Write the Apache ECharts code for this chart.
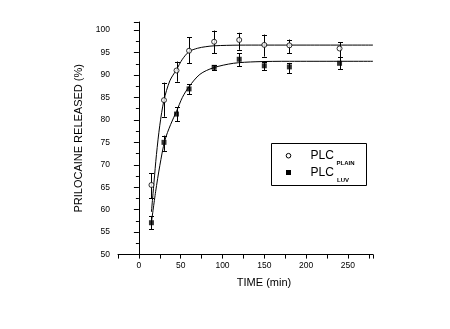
<!DOCTYPE html>
<html><head><meta charset="utf-8">
<script src="https://cdn.jsdelivr.net/npm/echarts@6/dist/echarts.min.js"></script>
<style>html,body{margin:0;padding:0;background:#fff}#c{width:450px;height:329px}</style>
</head><body><div id="c"></div>
<script>
// ---- data ----
const times = [15, 30, 45, 60, 90, 120, 150, 180, 240];
const plainMean = [65.5, 84.4, 91.0, 95.4, 97.4, 97.8, 96.7, 96.6, 95.9];
const plainLow  = [62.5, 80.7, 88.5, 92.6, 94.8, 95.6, 94.1, 94.8, 94.0];
const plainHigh = [68.1, 88.3, 93.0, 98.4, 99.9, 99.4, 99.0, 97.9, 97.3];
const luvMean = [57.1, 75.0, 81.3, 86.9, 91.7, 93.5, 92.05, 91.8, 92.6];
const luvLow  = [55.6, 73.1, 79.7, 85.7, 91.1, 92.0, 91.1, 90.4, 91.3];
const luvHigh = [58.5, 76.5, 82.8, 87.9, 92.2, 94.8, 92.9, 92.7, 93.9];
// fitted curves
const plainFitT = [15, 18, 21, 25, 30, 37, 45, 52, 60, 70, 80, 90, 105, 120, 150, 200, 280];
const plainFitV = [59.5, 66.0, 72.3, 78.8, 84.4, 88.7, 91.2, 93.5, 95.2, 95.95, 96.3, 96.5, 96.6, 96.65, 96.66, 96.66, 96.66];
const luvFitT = [15, 20, 25, 31, 38, 45, 52, 60, 73, 89, 113, 140, 180, 280];
const luvFitV = [57.2, 64.0, 69.8, 75.4, 79.0, 81.9, 85.0, 87.4, 90.15, 91.6, 92.6, 92.95, 93.05, 93.05];
const xTickLabels = [0, 50, 100, 150, 200, 250];
const yTickLabels = [50, 55, 60, 65, 70, 75, 80, 85, 90, 95, 100];
const seriesNames = ['PLC', 'PLC'];
const seriesSubs = ['PLAIN', 'LUV'];

const chart = echarts.init(document.getElementById('c'), null, {renderer: 'canvas'});
const FONT = '"Liberation Sans", Arial, sans-serif';

function errSeries(lo, hi) {
  return {
    type: 'custom',
    silent: true,
    z: 3,
    data: times.map((t, i) => [t, lo[i], hi[i]]),
    renderItem(params, api) {
      const x = api.value(0);
      const p1 = api.coord([x, api.value(1)]);
      const p2 = api.coord([x, api.value(2)]);
      const cx = Math.round(p1[0]) + 0.5;
      const w = 2.5;
      const st = {stroke: '#000', lineWidth: 1};
      return {type: 'group', children: [
        {type: 'line', shape: {x1: cx, y1: p1[1], x2: cx, y2: p2[1]}, style: st},
        {type: 'line', shape: {x1: cx - w, y1: Math.round(p1[1]) + 0.5, x2: cx + w, y2: Math.round(p1[1]) + 0.5}, style: st},
        {type: 'line', shape: {x1: cx - w, y1: Math.round(p2[1]) + 0.5, x2: cx + w, y2: Math.round(p2[1]) + 0.5}, style: st}
      ]};
    }
  };
}

const option = {
  animation: false,
  backgroundColor: '#fff',
  grid: {left: 118, top: 22, right: 77, bottom: 74.4, containLabel: false},
  xAxis: {
    type: 'value', min: -25, max: 280, interval: 25,
    name: 'TIME (min)', nameLocation: 'middle', nameGap: 23,
    nameTextStyle: {fontFamily: FONT, fontSize: 11, color: '#000', padding: [0, 0, 0, 37]},
    axisLine: {lineStyle: {color: '#000', width: 1}},
    axisTick: {show: true, length: 4, lineStyle: {color: '#000'}},
    splitLine: {show: false},
    axisLabel: {
      fontFamily: FONT, fontSize: 8.5, color: '#000', margin: 7,
      formatter: v => xTickLabels.indexOf(v) >= 0 ? String(v) : ''
    }
  },
  yAxis: {
    type: 'value', min: 50, max: 101.8, interval: 5,
    name: 'PRILOCAINE RELEASED (%)', nameLocation: 'middle', nameGap: 28,
    nameTextStyle: {fontFamily: FONT, fontSize: 11, color: '#000'},
    axisLine: {show: true, lineStyle: {color: '#000', width: 1}},
    axisTick: {show: true, length: 5, lineStyle: {color: '#000'}},
    minorTick: {show: true, splitNumber: 2, length: 3, lineStyle: {color: '#000'}},
    splitLine: {show: false},
    axisLabel: {
      fontFamily: FONT, fontSize: 8.5, color: '#000', margin: 8,
      formatter: v => yTickLabels.indexOf(v) >= 0 ? String(v) : ''
    }
  },
  series: [
    {type: 'line', data: plainFitT.map((t, i) => [t, plainFitV[i]]), smooth: 0.3, symbol: 'none',
     lineStyle: {color: '#000', width: 1}, z: 2, silent: true},
    {type: 'line', data: luvFitT.map((t, i) => [t, luvFitV[i]]), smooth: 0.3, symbol: 'none',
     lineStyle: {color: '#000', width: 1}, z: 2, silent: true},
    errSeries(plainLow, plainHigh),
    errSeries(luvLow, luvHigh),
    {type: 'scatter', name: seriesNames[0] + seriesSubs[0], data: times.map((t, i) => [t, plainMean[i]]),
     symbol: 'circle', symbolSize: 5, itemStyle: {color: '#fff', borderColor: '#000', borderWidth: 1}, z: 5},
    {type: 'scatter', name: seriesNames[1] + seriesSubs[1], data: times.map((t, i) => [t, luvMean[i]]),
     symbol: 'rect', symbolSize: 5, itemStyle: {color: '#000'}, z: 5}
  ],
  graphic: [
    {type: 'rect', shape: {x: 271.5, y: 143.5, width: 95, height: 42}, style: {fill: '#fff', stroke: '#000', lineWidth: 1}, z: 10},
    {type: 'circle', shape: {cx: 288.5, cy: 155.7, r: 2.3}, style: {fill: '#fff', stroke: '#000', lineWidth: 1}, z: 11},
    {type: 'rect', shape: {x: 286, y: 170, width: 5, height: 5}, style: {fill: '#000'}, z: 11},
    {type: 'text', x: 310.5, y: 155.5, style: {text: seriesNames[0], font: '12px ' + FONT, fill: '#000', verticalAlign: 'middle', textVerticalAlign: 'middle'}, z: 11},
    {type: 'text', x: 336.5, y: 163.3, style: {text: seriesSubs[0], font: 'bold 6px ' + FONT, fill: '#000', verticalAlign: 'middle', textVerticalAlign: 'middle'}, z: 11},
    {type: 'text', x: 310.5, y: 172.3, style: {text: seriesNames[1], font: '12px ' + FONT, fill: '#000', verticalAlign: 'middle', textVerticalAlign: 'middle'}, z: 11},
    {type: 'text', x: 337, y: 180.5, style: {text: seriesSubs[1], font: 'bold 6px ' + FONT, fill: '#000', verticalAlign: 'middle', textVerticalAlign: 'middle'}, z: 11}
  ]
};
chart.setOption(option);
</script>
</body></html>
